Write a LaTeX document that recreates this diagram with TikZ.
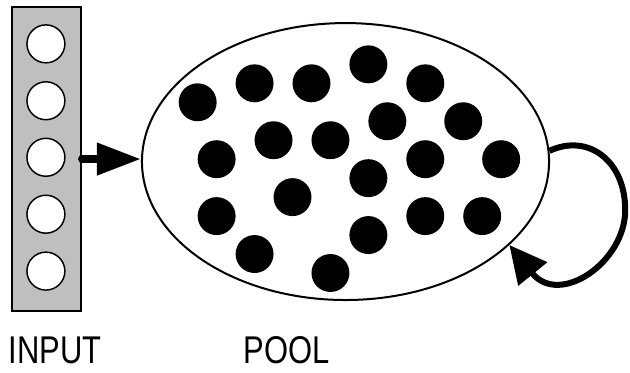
\documentclass[tikz,border=0pt]{standalone}
\usepackage{fontspec}
\newfontfamily\labelfont[FakeStretch=0.8]{Liberation Sans}
\usetikzlibrary{arrows.meta,shapes.geometric}

\begin{document}
\begin{tikzpicture}[
  inunit/.style={circle, draw, fill=white, line width=1.1pt, minimum size=1cm, inner sep=0pt},
  neuron/.style={circle, fill=black, minimum size=1cm, inner sep=0pt},
  feed/.style={-{Triangle[length=33pt,width=23pt]}, line width=6pt, line cap=round},
  recur/.style={-{Triangle[length=28pt,width=27pt]}, line width=4.5pt},
  lbl/.style={font=\labelfont\fontsize{29}{32}\selectfont, inner sep=0pt}]
 \useasboundingbox (0,0) rectangle (16.606,9.806);
 \node[draw, fill=black!25, line width=1.5pt, minimum width=1.82cm, minimum height=8.01cm] (input) at (1.226,5.614) {};
 \foreach \y [count=\i] in {8.65,7.15,5.66,4.16,2.66}
   \node[inunit] (u\i) at (1.21,\y) {};
 \node[ellipse, draw, line width=1.5pt, minimum width=10.73cm, minimum height=7.3cm, inner sep=0pt] (pool) at (9.107,5.548) {};
 \foreach \x/\y [count=\i] in {5.21/7.11, 6.71/7.61, 8.21/7.61, 9.71/8.11, 11.21/7.61,
   10.21/6.61, 12.21/6.61, 7.21/6.11, 8.71/6.11, 5.71/5.61, 11.21/5.61, 13.21/5.61,
   9.71/5.11, 7.71/4.61, 5.71/4.11, 11.21/4.11, 12.71/4.11, 9.71/3.61, 6.71/3.11, 8.71/2.61}
   \node[neuron] (n\i) at (\x,\y) {};
 \coordinate (loopR) at (16.48,4.27);
 \draw[feed] (input.east) -- (input.east -| pool.west);
 \draw[recur] (pool.3) .. controls +(25:1.107) and +(90:1.318) .. (loopR)
   .. controls +(-90:1.371) and +(-51:2.109) .. (pool.-27);
 \node[lbl] (inlabel) at (1.45,0.58) {INPUT};
 \node[lbl] (poollabel) at (7.55,0.58) {POOL};
\end{tikzpicture}
\end{document}
